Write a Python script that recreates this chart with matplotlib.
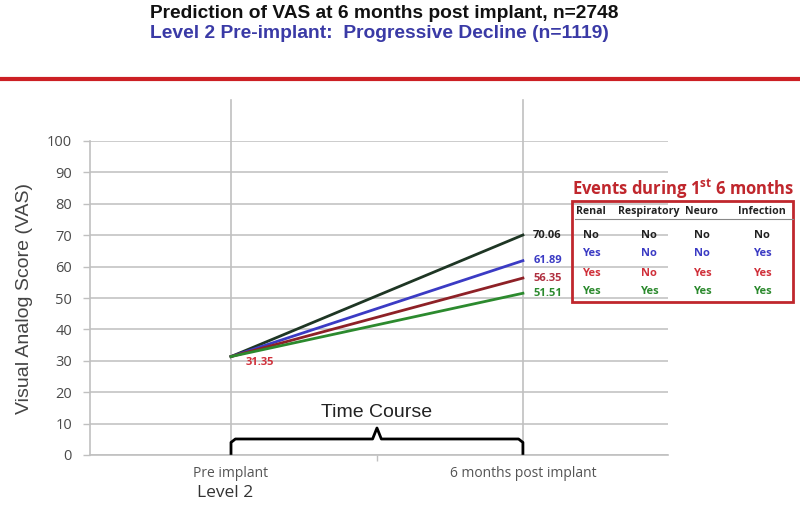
import numpy as np
import matplotlib.pyplot as plt

plt.rcParams["mathtext.fontset"] = "custom"
plt.rcParams["mathtext.rm"] = "Open Sans:bold"

# data
timepoints = ["Pre implant", "6 months post implant"]
start_vas = 31.35
end_vas = [70.06, 61.89, 56.35, 51.51]
line_colors = ["#1e3624", "#3b3bc4", "#8e2127", "#2c8a2e"]
label_colors = ["#222222", "#3b3bc4", "#b03040", "#2c8a2e"]

event_cols = ["Renal", "Respiratory", "Neuro", "Infection"]
event_rows = [["No", "No", "No", "No"],
              ["Yes", "No", "No", "Yes"],
              ["Yes", "No", "Yes", "Yes"],
              ["Yes", "Yes", "Yes", "Yes"]]
row_colors = ["#222222", "#3b3bc4", "#d0303a", "#2c8a2e"]

W, H = 800, 508
fig = plt.figure(figsize=(8, 5.08), dpi=100)
ax = fig.add_axes([90 / W, 1 - 455 / H, 578 / W, 314 / H])

x = np.arange(len(timepoints))
for v, c in zip(end_vas, line_colors):
    ax.plot(x, [start_vas, v], color=c, lw=2, zorder=3)

# value labels
for v, c in zip(end_vas, label_colors):
    ax.text(1.035, v, f"{v:.2f}", color=c, fontsize=8, fontweight="bold",
            family="Open Sans", va="center", ha="left")
ax.text(0.05, start_vas - 1.8, f"{start_vas:.2f}", color="#d0303a", fontsize=8,
        fontweight="bold", family="Open Sans", va="center", ha="left")

ax.set_xlim(-0.483, 1.497)
ax.set_ylim(0, 100)
ax.set_yticks(range(0, 101, 10))
ax.yaxis.grid(True, color="#c8c8c8", lw=1.3)
ax.set_axisbelow(True)
for xv in x:
    ax.plot([xv, xv], [0, 113], color="#c0c0c0", lw=1.2, clip_on=False, zorder=1)

ax.set_xticks([0.5])
ax.set_xticklabels([""])
ax.tick_params(axis="x", length=4, color="#c0c0c0", width=1)
ax.tick_params(axis="y", length=5, color="#c0c0c0", width=1, labelsize=10.5,
               labelcolor="#4a4a4a", pad=8)
for lbl in ax.get_yticklabels():
    lbl.set_family("Open Sans")
for xv, t in zip(x, timepoints):
    ax.text(xv, -6, t, ha="center", va="center", fontsize=10, color="#555555",
            family="Open Sans")
ax.text(-0.02, -12, "Level 2", ha="center", va="center", fontsize=12.5,
        color="#333333", family="Open Sans")

for s in ["top", "right"]:
    ax.spines[s].set_visible(False)
ax.spines["left"].set_color("#c0c0c0")
ax.spines["bottom"].set_color("#c0c0c0")
ax.spines["left"].set_linewidth(1.2)
ax.spines["bottom"].set_linewidth(1.2)

ax.set_ylabel("Visual Analog Score (VAS)", fontsize=14, color="#444444",
              family="Liberation Sans", labelpad=10)

# brace
bx = [0, 0, 0.015, 0.485, 0.5, 0.515, 0.985, 1, 1]
by = [0.5, 4, 5.1, 5.1, 8.6, 5.1, 5.1, 4, 0.5]
ax.plot(bx, by, color="black", lw=2, zorder=4, solid_joinstyle="round")
ax.text(0.5, 13.5, "Time Course", ha="center", va="center", fontsize=14,
        color="#222222", family="Liberation Sans")

# titles
fig.text(384 / W, 1 - 14 / H, "Prediction of VAS at 6 months post implant, n=2748",
         ha="center", va="center", fontsize=13.8, fontweight="bold",
         family="Liberation Sans", color="#111111")
fig.text(150 / W, 1 - 34 / H, "Level 2 Pre-implant:  Progressive Decline (n=1119)",
         ha="left", va="center", fontsize=13.9, fontweight="bold",
         family="Liberation Sans", color="#3a3aa6")
fig.add_artist(plt.Line2D([0, 1], [1 - 79 / H] * 2, color="#cc1f24", lw=3,
                          transform=fig.transFigure))

# events table
fig.text(683 / W, 1 - 189 / H, "Events during 1$^{\\mathrm{st}}$ 6 months",
         ha="center", va="center", fontsize=12, fontweight="bold",
         family="Open Sans", color="#c0272d")
fig.add_artist(plt.Rectangle((572 / W, 1 - 302 / H), 221 / W, 101 / H,
                             fill=False, ec="#c0272d", lw=2,
                             transform=fig.transFigure))
col_x = [591, 649, 702, 762]
for cx, name in zip(col_x, event_cols):
    fig.text(cx / W, 1 - 212 / H, name, ha="center", va="center", fontsize=7.6,
             fontweight="bold", family="Open Sans", color="#222222")
fig.add_artist(plt.Line2D([575 / W, 793 / W], [1 - 219 / H] * 2,
                          color="#888888", lw=0.8, transform=fig.transFigure))
row_y = [235, 254, 273, 292]
for ry, row, rc in zip(row_y, event_rows, row_colors):
    for cx, val in zip(col_x, row):
        fig.text(cx / W, 1 - ry / H, val, ha="center", va="center",
                 fontsize=8, fontweight="bold", family="Open Sans", color=rc)

fig.savefig("out.png", dpi=100)
